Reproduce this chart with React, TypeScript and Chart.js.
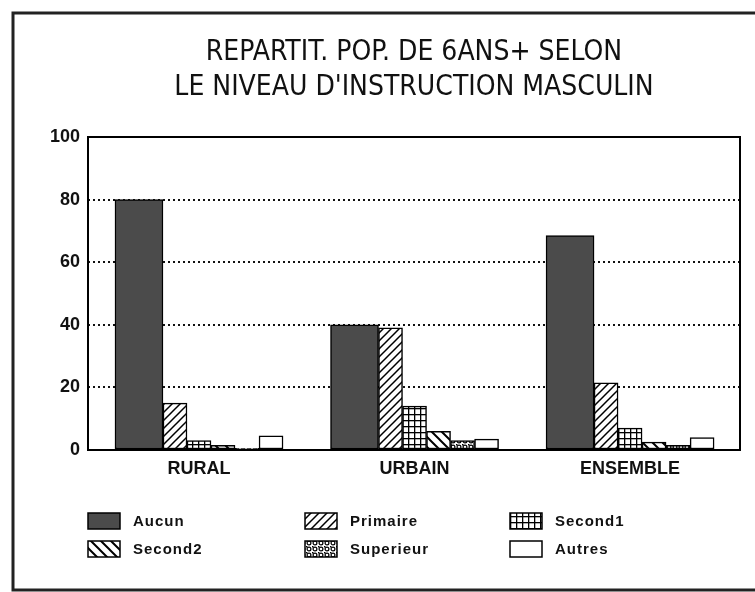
import React, { useEffect, useRef } from "react";
import { Chart, registerables } from "chart.js";
Chart.register(...registerables);

const TITLE_LINES = ["REPARTIT. POP. DE 6ANS+ SELON", "LE NIVEAU D'INSTRUCTION MASCULIN"];
const CATEGORIES = ["RURAL", "URBAIN", "ENSEMBLE"];
const SERIES_NAMES = ["Aucun", "Primaire", "Second1", "Second2", "Superieur", "Autres"];
const AUCUN = [80, 40, 68.5];
const PRIMAIRE = [15, 39, 21.5];
const SECOND1 = [3, 14, 7];
const SECOND2 = [1.5, 6, 2.5];
const SUPERIEUR = [0.5, 3, 1.5];
const AUTRES = [4.5, 3.5, 4];
const Y_MIN = 0;
const Y_MAX = 100;
const Y_STEP = 20;

const SERIES = [AUCUN, PRIMAIRE, SECOND1, SECOND2, SUPERIEUR, AUTRES];
const PATTERN_KINDS = ["solid", "fwd", "grid", "back", "dots", "white"];
const SLOT_SPAN = [2, 1, 1, 1, 1, 1];
const SLOT_PX = 24;
const SLOT_UNIT = 0.1114;

const FONT = "'Liberation Sans', Arial, sans-serif";
const NARROW = "'Liberation Sans Narrow', 'DejaVu Sans Condensed', 'Liberation Sans', sans-serif";

function makePattern(kind: string): CanvasPattern | string {
  if (kind === "solid") return "#4b4b4b";
  if (kind === "white") return "#ffffff";
  const c = document.createElement("canvas");
  const s = kind === "back" ? 10 : kind === "fwd" ? 8 : 6;
  c.width = s;
  c.height = s;
  const g = c.getContext("2d")!;
  g.fillStyle = "#fff";
  g.fillRect(0, 0, s, s);
  g.strokeStyle = "#000";
  g.fillStyle = "#000";
  g.lineWidth = 1.5;
  if (kind === "fwd") {
    g.beginPath();
    g.moveTo(0, s); g.lineTo(s, 0);
    g.moveTo(-s / 2, s / 2); g.lineTo(s / 2, -s / 2);
    g.moveTo(s / 2, s * 1.5); g.lineTo(s * 1.5, s / 2);
    g.stroke();
  } else if (kind === "back") {
    g.lineWidth = 2;
    g.beginPath();
    g.moveTo(0, 0); g.lineTo(s, s);
    g.moveTo(-s / 2, s / 2); g.lineTo(s / 2, s * 1.5);
    g.moveTo(s / 2, -s / 2); g.lineTo(s * 1.5, s / 2);
    g.stroke();
  } else if (kind === "grid") {
    g.fillRect(0, 0, s, 1.3);
    g.fillRect(0, 0, 1.3, s);
  } else if (kind === "dots") {
    g.lineWidth = 1.2;
    g.beginPath();
    g.arc(s / 2, s / 2, 1.9, 0, Math.PI * 2);
    g.stroke();
    g.fillRect(0, 0, 1.5, 1.5);
  }
  return g.createPattern(c, "repeat")!;
}

export default function App() {
  const ref = useRef<HTMLCanvasElement | null>(null);

  useEffect(() => {
    const canvas = ref.current;
    if (!canvas) return;
    const fills = PATTERN_KINDS.map(makePattern);
    const totalSlots = SLOT_SPAN.reduce((a, b) => a + b, 0);
    let acc = 0;
    const offsets = SLOT_SPAN.map((sp) => {
      const center = (acc + sp / 2 - totalSlots / 2) * SLOT_UNIT;
      acc += sp;
      return center;
    });

    const datasets = SERIES.map((vals, i) => ({
      label: SERIES_NAMES[i],
      data: vals.map((v, k) => ({ x: k + offsets[i], y: v })),
      backgroundColor: fills[i] as any,
      borderColor: "#000",
      borderWidth: 1.5,
      borderSkipped: false as any,
      barThickness: SLOT_SPAN[i] * SLOT_PX,
      grouped: false,
    }));

    const decor = {
      id: "decor",
      afterDatasetsDraw(chart: any) {
        const { ctx, chartArea: a } = chart;
        ctx.save();
        ctx.strokeStyle = "#000";
        ctx.lineWidth = 2;
        ctx.strokeRect(a.left, a.top, a.right - a.left, a.bottom - a.top);
        ctx.restore();
      },
      afterDraw(chart: any) {
        const { ctx } = chart;
        ctx.save();
        ctx.strokeStyle = "#222";
        ctx.lineWidth = 3;
        ctx.beginPath();
        ctx.moveTo(800, 13);
        ctx.lineTo(13, 13);
        ctx.lineTo(13, 590);
        ctx.lineTo(800, 590);
        ctx.stroke();
        const cols = [88, 305, 510];
        const rows = [521, 549];
        ctx.font = `bold 15px ${FONT}`;
        (ctx as any).letterSpacing = "1px";
        ctx.textBaseline = "middle";
        ctx.textAlign = "left";
        SERIES_NAMES.forEach((name, i) => {
          const x = cols[i % 3];
          const y = rows[Math.floor(i / 3)];
          ctx.fillStyle = fills[i] as any;
          ctx.fillRect(x, y - 8, 32, 16);
          ctx.strokeStyle = "#000";
          ctx.lineWidth = 1.5;
          ctx.strokeRect(x, y - 8, 32, 16);
          ctx.fillStyle = "#111";
          ctx.fillText(name, x + 45, y + 1);
        });
        ctx.restore();
      },
    };

    const chart = new Chart(canvas, {
      type: "bar",
      data: { datasets: datasets as any },
      options: {
        animation: false,
        responsive: true,
        maintainAspectRatio: false,
        layout: { padding: { left: 0, right: 15, top: 0, bottom: 102 } },
        plugins: {
          legend: { display: false },
          tooltip: { enabled: false },
          title: {
            display: true,
            text: TITLE_LINES,
            fullSize: false,
            color: "#111",
            font: { family: NARROW, size: 28, weight: "normal", lineHeight: 1.25 },
            padding: { top: 35, bottom: 32 },
          },
        },
        scales: {
          x: {
            type: "linear",
            offset: false,
            min: -0.515,
            max: 2.51,
            grid: { display: false, drawTicks: false, offset: false },
            border: { display: false },
            afterBuildTicks: (scale: any) => {
              scale.ticks = CATEGORIES.map((_, i) => ({ value: i }));
            },
            afterFit: (scale: any) => {
              scale.height = 40;
            },
            ticks: {
              autoSkip: false,
              padding: 8,
              color: "#111",
              font: { family: FONT, size: 18, weight: "bold" },
              callback: (v: any) => CATEGORIES[Math.round(Number(v))] ?? "",
            },
          },
          y: {
            min: Y_MIN,
            max: Y_MAX,
            grid: {
              drawTicks: false,
              lineWidth: 2,
              color: (ctx: any) =>
                ctx.tick && ctx.tick.value > Y_MIN && ctx.tick.value < Y_MAX ? "#111" : "transparent",
            },
            border: { display: false, dash: [2, 3] },
            afterFit: (scale: any) => {
              scale.width = 88;
            },
            ticks: {
              stepSize: Y_STEP,
              padding: 8,
              color: "#111",
              font: { family: FONT, size: 18, weight: "bold" },
            },
          },
        },
      },
      plugins: [decor],
    });
    return () => chart.destroy();
  }, []);

  return (
    <div style={{ position: "absolute", left: 0, top: 0, width: 755, height: 592, background: "#fff", overflow: "hidden" }}>
      <canvas ref={ref} style={{ display: "block" }} />
    </div>
  );
}
